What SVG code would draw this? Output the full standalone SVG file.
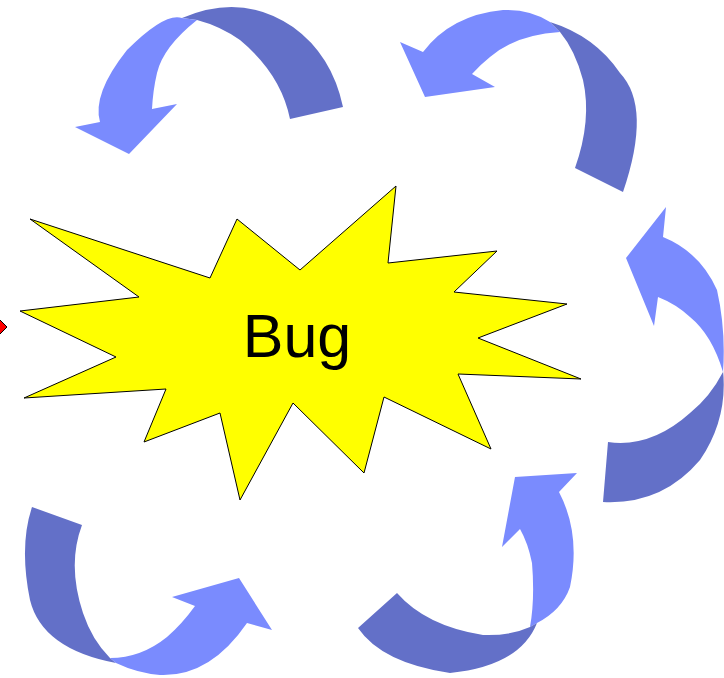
<svg xmlns="http://www.w3.org/2000/svg" width="724" height="678" viewBox="0 0 724 678">
<style>
.lt{fill:#7a8bfe;stroke:none}
.dk{fill:#6370c8;stroke:none}
.star{fill:#ffff00;stroke:#000;stroke-width:1;stroke-linejoin:miter}
.lbl{font-family:"Liberation Sans",Arial,sans-serif;font-size:61px;fill:#000}
</style>
<rect width="724" height="678" fill="#fff"/>
<g id="marker-left">
<polygon points="-8,312 7,327 -8,342" fill="#ff0000" stroke="#000" stroke-width="1"/>
</g>
<g id="bug">
<polygon class="star" points="30,219 210,278 237,219 300,270 396,186 388,263 497,251 454,292 567,304 478,338 581,379 458,374 491,449 384,397 364,473 293,403 240,500 220,413 144,442 166,389 24,398 116,357 20,311 139,297"/>
<text class="lbl" x="297" y="357" text-anchor="middle">Bug</text>
</g>
<g id="connectors">
<g id="arrow-top-left">
<path class="dk" d="M182,18 Q242,-8 293,27 Q332,55 343,107 L290,119 Q281,74 240,40 Q220,26 197,20 Z"/>
<path class="lt" d="M197,20 Q163,47 157,73 Q153,90 152,109 L177,104 L129,154 L75,127 L100,122 Q92,94 127,50 Q165,12 182,18 Z"/>
</g>
<g id="arrow-top-right">
<path class="lt" d="M400,42 L423,52 Q451,15 503,10 Q530,9 550,22 L560,32 Q515,35 490,57 Q480,65 472,74 L495,87 L425,97 Z"/>
<path class="dk" d="M550,22 Q595,36 620,73 Q652,107 623,192 L575,168 Q592,120 583,80 Q575,50 560,32 Z"/>
</g>
<g id="arrow-right">
<path class="lt" d="M666,207 L663,237 Q700,252 717,290 Q726,330 723,372 Q712,335 690,317 Q676,304 658,297 L654,326 L626,258 Z"/>
<path class="dk" d="M723,370 Q728,419 700,460 Q662,505 603,502 L608,442 Q651,448 690,413 Q710,397 723,372 Z"/>
</g>
<g id="arrow-bottom-right">
<path class="lt" d="M515,477 L577,473 L559,492 Q581,534 570,587 Q562,610 537,623 L530,627 Q535,599 532,563 Q528,543 520,529 L502,547 Z"/>
<path class="dk" d="M537,623 Q520,666 450,673 Q382,663 358,628 L397,593 Q426,626 483,635 Q510,636 530,627 Z"/>
</g>
<g id="arrow-bottom-left">
<path class="dk" d="M32,507 L82,525 Q67,565 83,613 Q92,640 110,658 L116,663 Q42,649 30,600 Q19,546 32,507 Z"/>
<path class="lt" d="M110,658 Q141,658 167,637 Q182,624 195,606 L172,597 L239,578 L272,630 L247,623 Q210,677 160,675 Q137,673 116,663 Z"/>
</g>
</g>
</svg>
